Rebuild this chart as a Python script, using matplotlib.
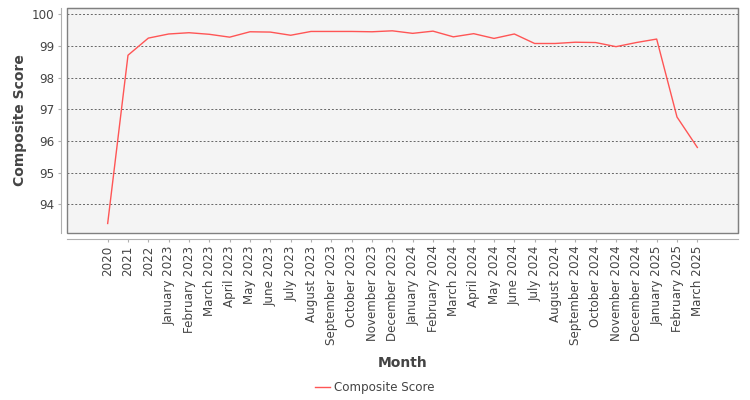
import matplotlib
matplotlib.use('Agg')
import matplotlib.pyplot as plt
from matplotlib.patches import Rectangle

# --- data ---
months = ["2020", "2021", "2022",
          "January 2023", "February 2023", "March 2023", "April 2023", "May 2023", "June 2023",
          "July 2023", "August 2023", "September 2023", "October 2023", "November 2023", "December 2023",
          "January 2024", "February 2024", "March 2024", "April 2024", "May 2024", "June 2024",
          "July 2024", "August 2024", "September 2024", "October 2024", "November 2024", "December 2024",
          "January 2025", "February 2025", "March 2025"]
scores = [93.40, 98.71, 99.25,
          99.38, 99.42, 99.37, 99.28, 99.45, 99.44,
          99.34, 99.46, 99.46, 99.46, 99.45, 99.48,
          99.40, 99.47, 99.29, 99.39, 99.24, 99.38,
          99.08, 99.08, 99.12, 99.11, 98.98, 99.11,
          99.22, 96.76, 95.80]
y_ticks = [94, 95, 96, 97, 98, 99, 100]

text_col = '#444444'
edge_col = '#808080'
axis_col = '#b0b0b0'

fig = plt.figure(figsize=(7.5, 4), dpi=100)
ax = fig.add_axes([67 / 750, 1 - 233 / 400, (738 - 67) / 750, (233 - 8) / 400])
ax.set_facecolor('#f4f4f4')

xs = list(range(len(months)))
ax.plot(xs, scores, color='#ff5555', linewidth=1.0, label='Composite Score')

ax.set_xlim(-2, 31)
ax.set_ylim(93.1, 100.2)
ax.set_yticks(y_ticks)
ax.set_xticks(xs)
ax.set_xticklabels(months)
ax.grid(axis='y', color='#666666', linestyle=(0, (2, 2)), linewidth=0.7)
ax.set_axisbelow(True)

# JFreeChart-ish look: axis lines offset from the plot border
for side in ['top', 'right']:
    ax.spines[side].set_color(edge_col)
for side in ['left', 'bottom']:
    ax.spines[side].set_position(('outward', 4))
    ax.spines[side].set_color(axis_col)
ax.add_patch(Rectangle((0, 0), 1, 1, transform=ax.transAxes, fill=False,
                       edgecolor=edge_col, linewidth=1.0, clip_on=False))

ax.tick_params(axis='x', length=2, color=axis_col, labelsize=8.6, labelcolor=text_col,
               pad=3, labelrotation=90)
ax.tick_params(axis='y', length=2, color=axis_col, labelsize=8.6, labelcolor=text_col, pad=3)

ax.set_ylabel('Composite Score', fontsize=10, fontweight='bold', color=text_col)
ax.yaxis.set_label_coords((27 - 67) / 671, 0.5)
ax.set_xlabel('Month', fontsize=10, fontweight='bold', color=text_col, va='top')
ax.xaxis.set_label_coords(0.5, (233 - 356) / 225)

fig.legend(loc='center', bbox_to_anchor=(0.5, 1 - 388 / 400), frameon=False,
           fontsize=8.6, handlelength=1.2, handletextpad=0.35, labelcolor=text_col)

fig.savefig('out.png', dpi=100)
